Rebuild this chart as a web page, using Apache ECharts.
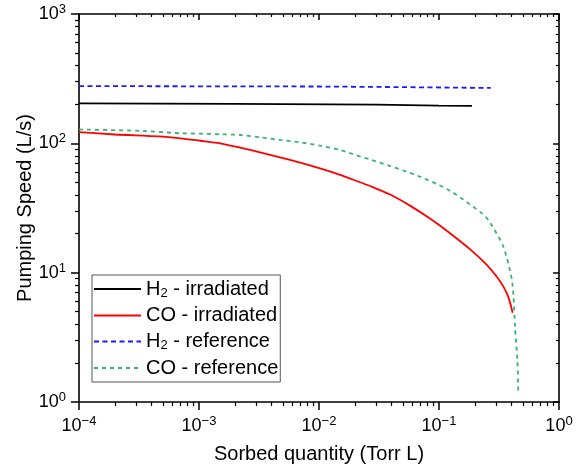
<!DOCTYPE html>
<html>
<head>
<meta charset="utf-8">
<script src="https://cdn.jsdelivr.net/npm/echarts@6/dist/echarts.min.js"></script>
<style>
  html, body { margin: 0; padding: 0; background: #fff; }
  #main { width: 579px; height: 469px; }
</style>
</head>
<body>
<div id="main"></div>
<script>
// values (log-log)
var h2IrrX = [1e-4, 0.002, 0.005, 0.03, 0.1, 0.188];
var h2IrrY = [204, 202, 201, 199, 196, 195];

var coIrrX = [1e-4, 2e-4, 4.6e-4, 6.95e-4, 1.02e-3, 1.5e-3, 2.2e-3, 3.23e-3, 4.73e-3, 6.95e-3, 0.0102, 0.015, 0.022, 0.0266, 0.0391, 0.0573, 0.0841, 0.1235, 0.181, 0.25, 0.303, 0.344, 0.378, 0.411];
var coIrrY = [122, 117, 113, 109.4, 104.7, 100, 92.5, 85.2, 78, 70.8, 64.1, 57.1, 50, 46.8, 40.2, 33, 26.2, 20.2, 15.2, 11.5, 9.3, 7.8, 6.5, 4.9];

var h2RefX = [1e-4, 0.01, 0.05, 0.27];
var h2RefY = [277, 275, 272, 268];

var coRefX = [1e-4, 3.2e-4, 6.95e-4, 1.02e-3, 1.5e-3, 2.2e-3, 3.23e-3, 4.73e-3, 6.95e-3, 0.0102, 0.015, 0.0193, 0.0275, 0.0378, 0.0521, 0.0718, 0.0987, 0.1315, 0.17, 0.227, 0.258, 0.303, 0.344, 0.378, 0.405, 0.418, 0.43, 0.45, 0.458];
var coRefY = [128, 125, 119.6, 118.8, 117.5, 116, 111.4, 106.2, 101.9, 95.9, 88.8, 82.3, 74.3, 67.5, 61, 54.5, 47.9, 41.5, 35.2, 28.8, 25.5, 20, 15.9, 11.8, 8.8, 6.5, 3.8, 2.1, 1.15];

var xMajor = [1e-4, 1e-3, 1e-2, 1e-1, 1];
var yMajor = [1, 10, 100, 1000];

function minors(lo, hi) {
  var out = [];
  for (var d = lo; d < hi; d++) {
    for (var k = 2; k <= 9; k++) out.push(k * Math.pow(10, d));
  }
  return out;
}
var xMinor = minors(-4, 0);
var yMinor = minors(0, 3);

function zip(xs, ys) {
  return xs.map(function (x, i) { return [x, ys[i]]; });
}

var FONT = "'Liberation Sans', Arial, sans-serif";
var BLACK = "#000";

function powLabel(v) {
  var e = Math.round(Math.log10(v));
  var s = e < 0 ? "\u2212" + (-e) : String(e);
  return "{b|10}{s|" + s + "}";
}
var powRich = {
  b: { fontSize: 18, fontFamily: FONT, color: BLACK, lineHeight: 22 },
  s: { fontSize: 13, fontFamily: FONT, color: BLACK, lineHeight: 13, verticalAlign: "top" }
};

function axisSet(dim, major, minor, range) {
  var isX = dim === "x";
  var posA = isX ? "bottom" : "left";
  var posB = isX ? "top" : "right";
  var base = { type: "log", logBase: 10, min: range[0], max: range[1], splitLine: { show: false } };
  return [
    Object.assign({}, base, {
      position: posA,
      name: isX ? "Sorbed quantity (Torr L)" : "Pumping Speed (L/s)",
      nameLocation: "middle",
      nameGap: isX ? 42 : 44,
      nameMoveOverlap: false,
      nameTextStyle: { fontSize: 20, fontFamily: FONT, color: BLACK },
      axisLine: { show: true, lineStyle: { color: BLACK, width: 1.6 } },
      axisTick: { show: true, inside: false, length: 8, customValues: major, lineStyle: { color: BLACK, width: 1.5 } },
      axisLabel: { show: true, margin: 13, customValues: major, formatter: powLabel, rich: powRich }
    }),
    Object.assign({}, base, {
      position: posA,
      axisLine: { show: false },
      axisTick: { show: true, inside: false, length: 4, customValues: minor, lineStyle: { color: BLACK, width: 1.2 } },
      axisLabel: { show: false }
    }),
    Object.assign({}, base, {
      position: posB,
      axisLine: { show: true, lineStyle: { color: BLACK, width: 1.6 } },
      axisTick: { show: true, inside: true, length: 6, customValues: major, lineStyle: { color: BLACK, width: 1.5 } },
      axisLabel: { show: false }
    }),
    Object.assign({}, base, {
      position: posB,
      axisLine: { show: false },
      axisTick: { show: true, inside: true, length: 3, customValues: minor, lineStyle: { color: BLACK, width: 1.2 } },
      axisLabel: { show: false }
    })
  ];
}

var myChart = echarts.init(document.getElementById("main"));

var option = {
  animation: false,
  backgroundColor: "#fff",
  grid: { left: 79, right: 20, top: 14, bottom: 67, containLabel: false },
  xAxis: axisSet("x", xMajor, xMinor, [1e-4, 1]),
  yAxis: axisSet("y", yMajor, yMinor, [1, 1000]),
  legend: {
    orient: "vertical",
    left: 92,
    top: 275,
    itemWidth: 47,
    itemHeight: 14,
    itemGap: 6,
    padding: [4, 2, 4, 1],
    borderColor: "#555",
    borderWidth: 1,
    backgroundColor: "#fff",
    itemStyle: { opacity: 0 },
    data: ["H2 - irradiated", "CO - irradiated", "H2 - reference", "CO - reference"],
    formatter: function (name) {
      if (name.indexOf("H2") === 0) {
        return "{t|H}{u|2}{t|" + name.slice(2) + "}";
      }
      return "{t|" + name + "}";
    },
    textStyle: {
      rich: {
        t: { fontSize: 20, fontFamily: FONT, color: BLACK, lineHeight: 21 },
        u: { fontSize: 13, fontFamily: FONT, color: BLACK, lineHeight: 11, verticalAlign: "bottom" }
      }
    }
  },
  series: [
    {
      name: "H2 - irradiated",
      type: "line",
      symbol: "none",
      data: zip(h2IrrX, h2IrrY),
      lineStyle: { color: "#000", width: 1.8 },
      itemStyle: { color: "#000" }
    },
    {
      name: "CO - irradiated",
      type: "line",
      symbol: "none",
      smooth: 0.25,
      data: zip(coIrrX, coIrrY),
      lineStyle: { color: "#ff0000", width: 1.8 },
      itemStyle: { color: "#ff0000" }
    },
    {
      name: "H2 - reference",
      type: "line",
      symbol: "none",
      data: zip(h2RefX, h2RefY),
      lineStyle: { color: "#1a1aff", width: 1.8, type: [5, 3.5] },
      itemStyle: { color: "#1a1aff" }
    },
    {
      name: "CO - reference",
      type: "line",
      symbol: "none",
      smooth: 0.25,
      data: zip(coRefX, coRefY),
      lineStyle: { color: "#3cb371", width: 1.8, type: [4, 4] },
      itemStyle: { color: "#3cb371" }
    }
  ]
};

myChart.setOption(option);
</script>
</body>
</html>
